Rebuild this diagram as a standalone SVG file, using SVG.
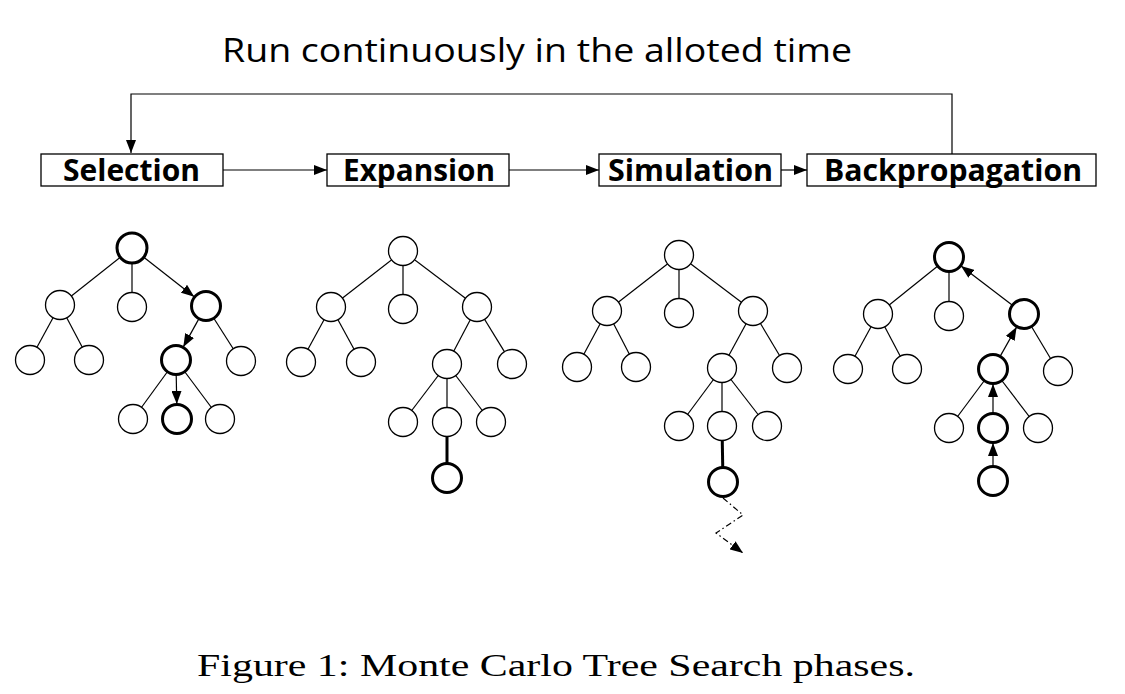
<svg xmlns="http://www.w3.org/2000/svg" width="1125" height="694" viewBox="0 0 1125 694">
<style>
  .n { fill: #fff; stroke: #000; stroke-width: 1.3; }
  .b { fill: #fff; stroke: #000; stroke-width: 3; }
  .e { stroke: #000; stroke-width: 1.2; fill: none; }
  .eb { stroke: #000; stroke-width: 3; fill: none; }
  .box { fill: #fff; stroke: #000; stroke-width: 1.3; }
  .lbl { font-family: "Open Sans", "Liberation Sans", sans-serif; font-weight: bold; font-size: 31px; fill: #000; }
  .ttl { font-family: "Open Sans", "Liberation Sans", sans-serif; font-size: 32px; fill: #000; }
  .cap { font-family: "Liberation Serif", "DejaVu Serif", serif; font-size: 31px; fill: #000; }
</style>
<defs>
  <marker id="ah" markerUnits="userSpaceOnUse" markerWidth="13" markerHeight="10" refX="13" refY="5" orient="auto">
    <path d="M0,0 L13,5 L0,10 Z" fill="#000"/>
  </marker>
</defs>
<rect width="1125" height="694" fill="#fff"/>

<text class="ttl" x="222" y="62" textLength="630" lengthAdjust="spacingAndGlyphs">Run continuously in the alloted time</text>

<!-- connectors -->
<g id="connectors">
  <!-- phase flow -->
  <path class="e" d="M952,154 V94 H131 V153" marker-end="url(#ah)"/>
  <line class="e" x1="223" y1="170" x2="327" y2="170" marker-end="url(#ah)"/>
  <line class="e" x1="509" y1="170" x2="599" y2="170" marker-end="url(#ah)"/>
  <line class="e" x1="781" y1="170" x2="807" y2="170" marker-end="url(#ah)"/>

  <!-- tree 1: selection -->
  <line class="e" x1="132" y1="248" x2="60" y2="305"/>
  <line class="e" x1="132" y1="248" x2="132" y2="307"/>
  <line class="e" x1="143.8" y1="257.3" x2="194.2" y2="296.7" marker-end="url(#ah)"/>
  <line class="e" x1="60" y1="305" x2="30" y2="360"/>
  <line class="e" x1="60" y1="305" x2="89" y2="360"/>
  <line class="e" x1="198.7" y1="319.1" x2="183.3" y2="346.9" marker-end="url(#ah)"/>
  <line class="e" x1="206" y1="306" x2="241" y2="361"/>
  <line class="e" x1="176" y1="360" x2="133" y2="419"/>
  <line class="e" x1="176.2" y1="375" x2="176.8" y2="404" marker-end="url(#ah)"/>
  <line class="e" x1="176" y1="360" x2="220" y2="419"/>

  <!-- tree 2: expansion -->
  <line class="e" x1="403" y1="251" x2="331" y2="307"/>
  <line class="e" x1="403" y1="251" x2="403" y2="309"/>
  <line class="e" x1="403" y1="251" x2="477" y2="307"/>
  <line class="e" x1="331" y1="307" x2="301" y2="362"/>
  <line class="e" x1="331" y1="307" x2="361" y2="362"/>
  <line class="e" x1="477" y1="307" x2="447" y2="364"/>
  <line class="e" x1="477" y1="307" x2="512" y2="364"/>
  <line class="e" x1="447" y1="364" x2="403" y2="422"/>
  <line class="e" x1="447" y1="364" x2="447" y2="422"/>
  <line class="e" x1="447" y1="364" x2="491" y2="422"/>
  <line class="eb" x1="447" y1="422" x2="447" y2="478"/>

  <!-- tree 3: simulation -->
  <line class="e" x1="679" y1="255" x2="607" y2="311"/>
  <line class="e" x1="679" y1="255" x2="679" y2="313"/>
  <line class="e" x1="679" y1="255" x2="753" y2="311"/>
  <line class="e" x1="607" y1="311" x2="577" y2="367"/>
  <line class="e" x1="607" y1="311" x2="636" y2="367"/>
  <line class="e" x1="753" y1="311" x2="722" y2="368"/>
  <line class="e" x1="753" y1="311" x2="787" y2="368"/>
  <line class="e" x1="722" y1="368" x2="679" y2="426"/>
  <line class="e" x1="722" y1="368" x2="722" y2="426"/>
  <line class="e" x1="722" y1="368" x2="767" y2="426"/>
  <line class="eb" x1="722" y1="426" x2="723" y2="482"/>
  <path class="e" d="M723,498 L743,515 L716,533 L743,553" stroke-dasharray="6,3,1.5,3" marker-end="url(#ah)"/>

  <!-- tree 4: backpropagation -->
  <line class="e" x1="949" y1="257" x2="878" y2="314"/>
  <line class="e" x1="949" y1="257" x2="949" y2="316"/>
  <line class="e" x1="1012.1" y1="304.9" x2="961" y2="266" marker-end="url(#ah)"/>
  <line class="e" x1="878" y1="314" x2="848" y2="369"/>
  <line class="e" x1="878" y1="314" x2="907" y2="369"/>
  <line class="e" x1="1000.4" y1="355.9" x2="1016.6" y2="327.1" marker-end="url(#ah)"/>
  <line class="e" x1="1024" y1="314" x2="1058" y2="371"/>
  <line class="e" x1="993" y1="369" x2="949" y2="428"/>
  <line class="e" x1="993" y1="413.5" x2="993" y2="384" marker-end="url(#ah)"/>
  <line class="e" x1="993" y1="369" x2="1038" y2="428"/>
  <line class="e" x1="993" y1="466.5" x2="993" y2="443" marker-end="url(#ah)"/>
</g>

<!-- phase boxes -->
<g id="phase-selection">
  <rect class="box" x="41" y="154" width="182" height="32"/>
  <text class="lbl" x="63" y="181" textLength="137" lengthAdjust="spacingAndGlyphs">Selection</text>
</g>
<g id="phase-expansion">
  <rect class="box" x="327" y="154" width="182" height="32"/>
  <text class="lbl" x="343" y="181" textLength="152" lengthAdjust="spacingAndGlyphs">Expansion</text>
</g>
<g id="phase-simulation">
  <rect class="box" x="599" y="154" width="182" height="32"/>
  <text class="lbl" x="608" y="181" textLength="165" lengthAdjust="spacingAndGlyphs">Simulation</text>
</g>
<g id="phase-backpropagation">
  <rect class="box" x="807" y="154" width="289" height="32"/>
  <text class="lbl" x="824" y="181" textLength="258" lengthAdjust="spacingAndGlyphs">Backpropagation</text>
</g>

<!-- tree 1 -->
<g id="tree-selection">
  <g id="s-root"><circle class="b" cx="132" cy="248" r="15"/></g>
  <g id="s-a"><circle class="n" cx="60" cy="305" r="14.5"/></g>
  <g id="s-b"><circle class="n" cx="132" cy="307" r="14.5"/></g>
  <g id="s-c"><circle class="b" cx="206" cy="306" r="14.5"/></g>
  <g id="s-a1"><circle class="n" cx="30" cy="360" r="14.5"/></g>
  <g id="s-a2"><circle class="n" cx="89" cy="360" r="14.5"/></g>
  <g id="s-c1"><circle class="b" cx="176" cy="360" r="14.5"/></g>
  <g id="s-c2"><circle class="n" cx="241" cy="361" r="14.5"/></g>
  <g id="s-c1a"><circle class="n" cx="133" cy="419" r="14.5"/></g>
  <g id="s-c1b"><circle class="b" cx="177" cy="419" r="14.5"/></g>
  <g id="s-c1c"><circle class="n" cx="220" cy="419" r="14.5"/></g>
</g>

<!-- tree 2 -->
<g id="tree-expansion">
  <g id="e-root"><circle class="n" cx="403" cy="251" r="14.5"/></g>
  <g id="e-a"><circle class="n" cx="331" cy="307" r="14.5"/></g>
  <g id="e-b"><circle class="n" cx="403" cy="309" r="14.5"/></g>
  <g id="e-c"><circle class="n" cx="477" cy="307" r="14.5"/></g>
  <g id="e-a1"><circle class="n" cx="301" cy="362" r="14.5"/></g>
  <g id="e-a2"><circle class="n" cx="361" cy="362" r="14.5"/></g>
  <g id="e-c1"><circle class="n" cx="447" cy="364" r="14.5"/></g>
  <g id="e-c2"><circle class="n" cx="512" cy="364" r="14.5"/></g>
  <g id="e-c1a"><circle class="n" cx="403" cy="422" r="14.5"/></g>
  <g id="e-c1b"><circle class="n" cx="447" cy="422" r="14.5"/></g>
  <g id="e-c1c"><circle class="n" cx="491" cy="422" r="14.5"/></g>
  <g id="e-new"><circle class="b" cx="447" cy="478" r="14.5"/></g>
</g>

<!-- tree 3 -->
<g id="tree-simulation">
  <g id="m-root"><circle class="n" cx="679" cy="255" r="14.5"/></g>
  <g id="m-a"><circle class="n" cx="607" cy="311" r="14.5"/></g>
  <g id="m-b"><circle class="n" cx="679" cy="313" r="14.5"/></g>
  <g id="m-c"><circle class="n" cx="753" cy="311" r="14.5"/></g>
  <g id="m-a1"><circle class="n" cx="577" cy="367" r="14.5"/></g>
  <g id="m-a2"><circle class="n" cx="636" cy="367" r="14.5"/></g>
  <g id="m-c1"><circle class="n" cx="722" cy="368" r="14.5"/></g>
  <g id="m-c2"><circle class="n" cx="787" cy="368" r="14.5"/></g>
  <g id="m-c1a"><circle class="n" cx="679" cy="426" r="14.5"/></g>
  <g id="m-c1b"><circle class="n" cx="722" cy="426" r="14.5"/></g>
  <g id="m-c1c"><circle class="n" cx="767" cy="426" r="14.5"/></g>
  <g id="m-new"><circle class="b" cx="723" cy="482" r="14.5"/></g>
</g>

<!-- tree 4 -->
<g id="tree-backpropagation">
  <g id="p-root"><circle class="b" cx="949" cy="257" r="14.5"/></g>
  <g id="p-a"><circle class="n" cx="878" cy="314" r="14.5"/></g>
  <g id="p-b"><circle class="n" cx="949" cy="316" r="14.5"/></g>
  <g id="p-c"><circle class="b" cx="1024" cy="314" r="14.5"/></g>
  <g id="p-a1"><circle class="n" cx="848" cy="369" r="14.5"/></g>
  <g id="p-a2"><circle class="n" cx="907" cy="369" r="14.5"/></g>
  <g id="p-c1"><circle class="b" cx="993" cy="369" r="14.5"/></g>
  <g id="p-c2"><circle class="n" cx="1058" cy="371" r="14.5"/></g>
  <g id="p-c1a"><circle class="n" cx="949" cy="428" r="14.5"/></g>
  <g id="p-c1b"><circle class="b" cx="993" cy="428" r="14.5"/></g>
  <g id="p-c1c"><circle class="n" cx="1038" cy="428" r="14.5"/></g>
  <g id="p-new"><circle class="b" cx="993" cy="481" r="14.5"/></g>
</g>

<text class="cap" x="197" y="676" textLength="718" lengthAdjust="spacingAndGlyphs">Figure 1: Monte Carlo Tree Search phases.</text>
</svg>
